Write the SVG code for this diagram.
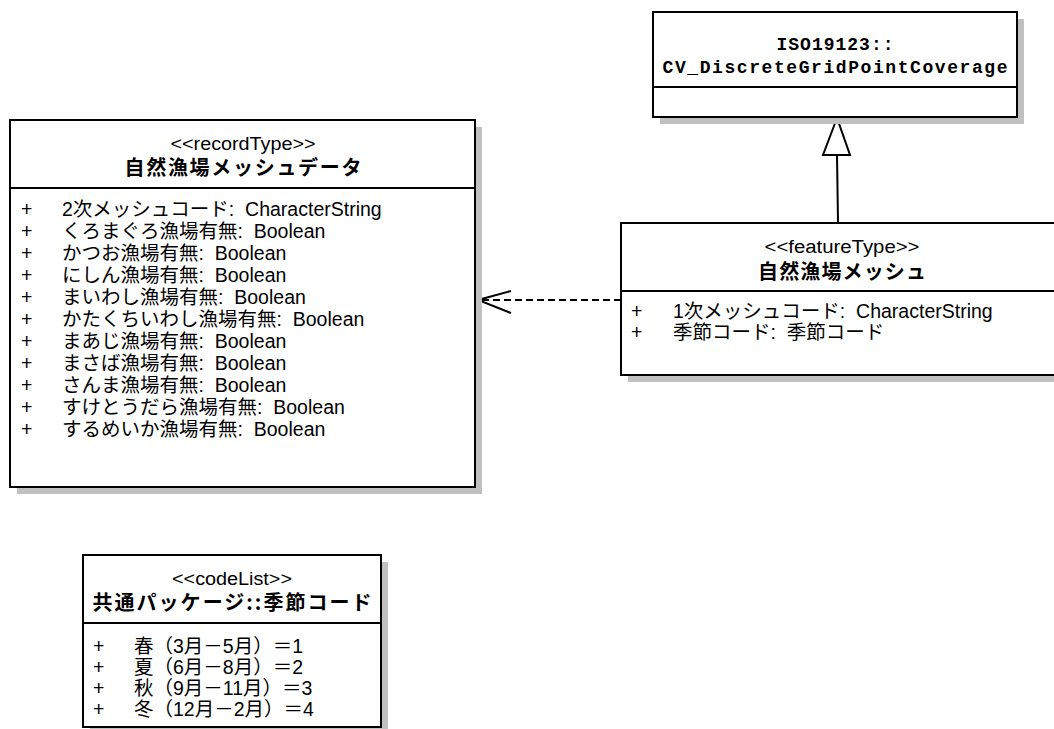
<svg xmlns="http://www.w3.org/2000/svg" width="1054" height="729" viewBox="0 0 1054 729">
<style>
.shadow{fill:#c0c0c0;stroke:none}
.box{fill:#fff;stroke:#000;stroke-width:2}
.sep{stroke:#000;stroke-width:2}
.st{font-family:"Liberation Sans","Noto Sans CJK JP",sans-serif;font-size:18px;fill:#000;text-anchor:middle}
.nm{font-family:"Noto Sans CJK JP",sans-serif;font-size:20px;font-weight:bold;fill:#000;text-anchor:middle}
.iso{font-family:"Liberation Mono",monospace;font-size:18px;font-weight:bold;fill:#000;text-anchor:middle}
.at{font-family:"Liberation Sans","Noto Sans CJK JP",sans-serif;font-size:19.5px;fill:#000;white-space:pre}
.conn{fill:none;stroke:#000;stroke-width:2}
</style>
<rect width="1054" height="729" fill="#fff"/>
<g id="connectors">
<path class="conn" d="M621,300 L479,300" stroke-dasharray="7,4"/>
<path class="conn" d="M511,291 L478,300 L511,313"/>
<path class="conn" d="M838,223 L837,155"/>
<polygon points="837,118 823,155 850,155" fill="#fff" stroke="#000" stroke-width="2"/>
</g>
<g id="node-recordType">
<rect class="shadow" x="17" y="127" width="465" height="367"/>
<rect class="box" x="10" y="120" width="465" height="367"/>
<line class="sep" x1="10" y1="188" x2="475" y2="188"/>
<text class="st" x="243" y="150" textLength="145" lengthAdjust="spacingAndGlyphs">&lt;&lt;recordType&gt;&gt;</text>
<text class="nm" x="243" y="175" textLength="237" lengthAdjust="spacing">自然漁場メッシュデータ</text>
<g class="at">
<text x="21" y="216">+</text><text x="62" y="216" xml:space="preserve">2次メッシュコード:  CharacterString</text>
<text x="21" y="238">+</text><text x="62" y="238" xml:space="preserve">くろまぐろ漁場有無:  Boolean</text>
<text x="21" y="260">+</text><text x="62" y="260" xml:space="preserve">かつお漁場有無:  Boolean</text>
<text x="21" y="282">+</text><text x="62" y="282" xml:space="preserve">にしん漁場有無:  Boolean</text>
<text x="21" y="304">+</text><text x="62" y="304" xml:space="preserve">まいわし漁場有無:  Boolean</text>
<text x="21" y="326">+</text><text x="62" y="326" xml:space="preserve">かたくちいわし漁場有無:  Boolean</text>
<text x="21" y="348">+</text><text x="62" y="348" xml:space="preserve">まあじ漁場有無:  Boolean</text>
<text x="21" y="370">+</text><text x="62" y="370" xml:space="preserve">まさば漁場有無:  Boolean</text>
<text x="21" y="392">+</text><text x="62" y="392" xml:space="preserve">さんま漁場有無:  Boolean</text>
<text x="21" y="414">+</text><text x="62" y="414" xml:space="preserve">すけとうだら漁場有無:  Boolean</text>
<text x="21" y="436">+</text><text x="62" y="436" xml:space="preserve">するめいか漁場有無:  Boolean</text>
</g>
</g>
<g id="node-coverage">
<rect class="shadow" x="660" y="19" width="364" height="105"/>
<rect class="box" x="653" y="12" width="364" height="105"/>
<line class="sep" x1="653" y1="87" x2="1017" y2="87"/>
<text class="iso" x="835" y="50" textLength="117" lengthAdjust="spacing">ISO19123::</text>
<text class="iso" x="835" y="73" textLength="345" lengthAdjust="spacing">CV_DiscreteGridPointCoverage</text>
</g>
<g id="node-featureType">
<rect class="shadow" x="628" y="230" width="442" height="152"/>
<rect class="box" x="621" y="223" width="442" height="152"/>
<line class="sep" x1="621" y1="291" x2="1063" y2="291"/>
<text class="st" x="842" y="253" textLength="155" lengthAdjust="spacingAndGlyphs">&lt;&lt;featureType&gt;&gt;</text>
<text class="nm" x="842" y="279" textLength="168" lengthAdjust="spacing">自然漁場メッシュ</text>
<g class="at">
<text x="631" y="318">+</text><text x="673" y="318" xml:space="preserve">1次メッシュコード:  CharacterString</text>
<text x="631" y="339">+</text><text x="673" y="339" xml:space="preserve">季節コード:  季節コード</text>
</g>
</g>
<g id="node-codeList">
<rect class="shadow" x="90" y="562" width="298" height="172"/>
<rect class="box" x="83" y="555" width="298" height="172"/>
<line class="sep" x1="83" y1="623" x2="381" y2="623"/>
<text class="st" x="232" y="585" textLength="120" lengthAdjust="spacingAndGlyphs">&lt;&lt;codeList&gt;&gt;</text>
<text class="nm" x="232" y="610" textLength="279" lengthAdjust="spacing">共通パッケージ::季節コード</text>
<g class="at">
<text x="93" y="653">+</text><text x="134" y="653">春（3月－5月）＝1</text>
<text x="93" y="674">+</text><text x="134" y="674">夏（6月－8月）＝2</text>
<text x="93" y="695">+</text><text x="134" y="695">秋（9月－11月）＝3</text>
<text x="93" y="716">+</text><text x="134" y="716">冬（12月－2月）＝4</text>
</g>
</g>
</svg>
